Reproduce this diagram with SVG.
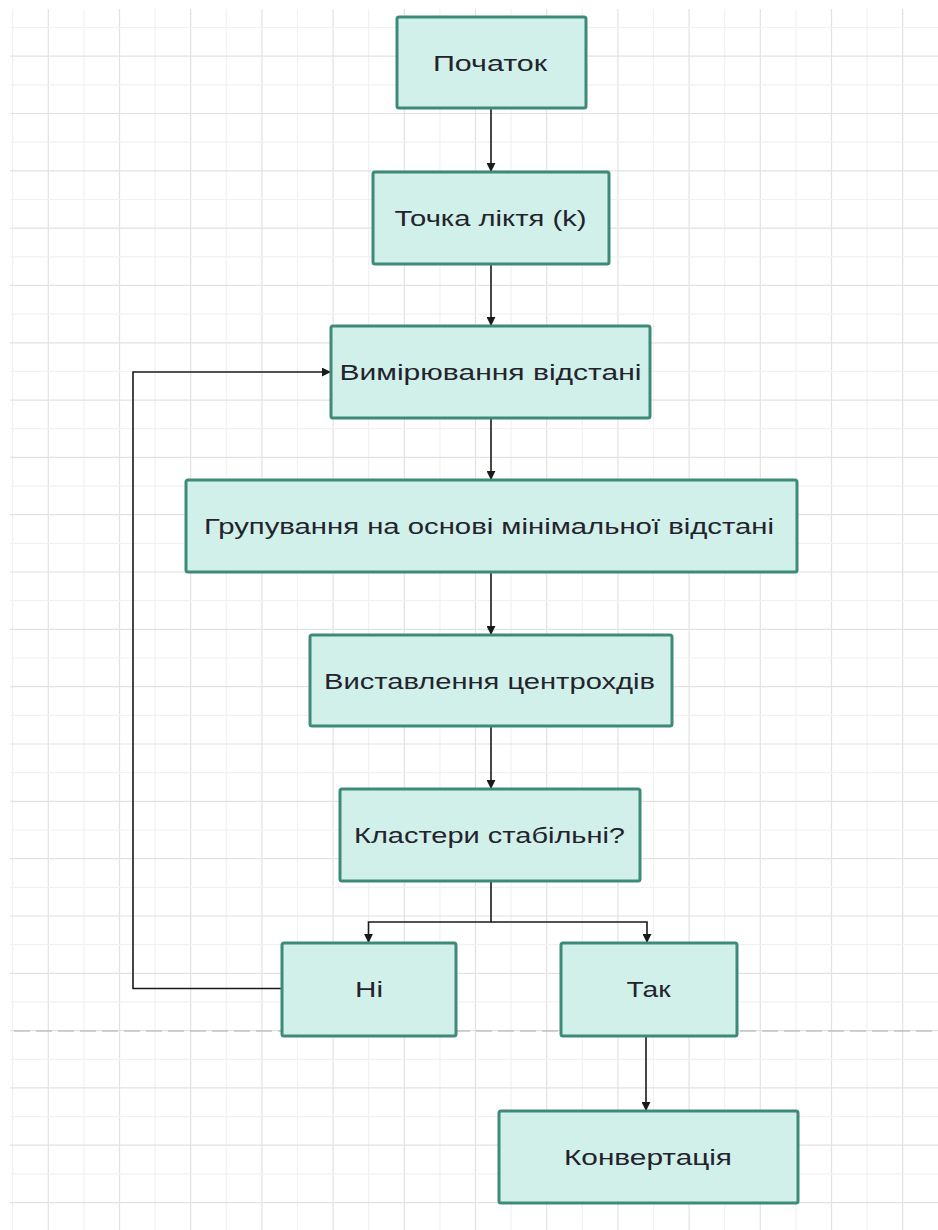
<svg xmlns="http://www.w3.org/2000/svg" width="938" height="1230" viewBox="0 0 938 1230">
<defs>
<style>
.gl{stroke:#f1f1f1;stroke-width:1.2}
.gd{stroke:#e2e2e2;stroke-width:1.2}
.box{fill:#d1f0e9;stroke:#3e8a79;stroke-width:3}
.lbl{font-family:"Liberation Sans",Arial,sans-serif;font-size:22px;fill:#23232d;text-anchor:middle}
.con{fill:none;stroke:#1a1a1a;stroke-width:1.6}
</style>
<marker id="ah" viewBox="0 0 10 10" refX="9" refY="5" markerWidth="9" markerHeight="9" markerUnits="userSpaceOnUse" orient="auto">
<path d="M0,0 L10,5 L0,10 z" fill="#1a1a1a"/>
</marker>
</defs>
<rect width="938" height="1230" fill="#ffffff"/>
<g id="grid">
<line class="gl" x1="12.7" y1="9" x2="12.7" y2="1230"/>
<line class="gd" x1="48.3" y1="9" x2="48.3" y2="1230"/>
<line class="gl" x1="83.9" y1="9" x2="83.9" y2="1230"/>
<line class="gd" x1="119.5" y1="9" x2="119.5" y2="1230"/>
<line class="gl" x1="155.1" y1="9" x2="155.1" y2="1230"/>
<line class="gd" x1="190.7" y1="9" x2="190.7" y2="1230"/>
<line class="gl" x1="226.3" y1="9" x2="226.3" y2="1230"/>
<line class="gd" x1="261.9" y1="9" x2="261.9" y2="1230"/>
<line class="gl" x1="297.5" y1="9" x2="297.5" y2="1230"/>
<line class="gd" x1="333.1" y1="9" x2="333.1" y2="1230"/>
<line class="gl" x1="368.7" y1="9" x2="368.7" y2="1230"/>
<line class="gd" x1="404.3" y1="9" x2="404.3" y2="1230"/>
<line class="gl" x1="439.9" y1="9" x2="439.9" y2="1230"/>
<line class="gd" x1="475.5" y1="9" x2="475.5" y2="1230"/>
<line class="gl" x1="511.1" y1="9" x2="511.1" y2="1230"/>
<line class="gd" x1="546.7" y1="9" x2="546.7" y2="1230"/>
<line class="gl" x1="582.3" y1="9" x2="582.3" y2="1230"/>
<line class="gd" x1="617.9" y1="9" x2="617.9" y2="1230"/>
<line class="gl" x1="653.5" y1="9" x2="653.5" y2="1230"/>
<line class="gd" x1="689.1" y1="9" x2="689.1" y2="1230"/>
<line class="gl" x1="724.7" y1="9" x2="724.7" y2="1230"/>
<line class="gd" x1="760.3" y1="9" x2="760.3" y2="1230"/>
<line class="gl" x1="795.9" y1="9" x2="795.9" y2="1230"/>
<line class="gd" x1="831.5" y1="9" x2="831.5" y2="1230"/>
<line class="gl" x1="867.1" y1="9" x2="867.1" y2="1230"/>
<line class="gd" x1="902.7" y1="9" x2="902.7" y2="1230"/>
<line class="gl" x1="10" y1="27.5" x2="938" y2="27.5"/>
<line class="gd" x1="10" y1="56.2" x2="938" y2="56.2"/>
<line class="gl" x1="10" y1="84.8" x2="938" y2="84.8"/>
<line class="gd" x1="10" y1="113.5" x2="938" y2="113.5"/>
<line class="gl" x1="10" y1="142.1" x2="938" y2="142.1"/>
<line class="gd" x1="10" y1="170.8" x2="938" y2="170.8"/>
<line class="gl" x1="10" y1="199.5" x2="938" y2="199.5"/>
<line class="gd" x1="10" y1="228.1" x2="938" y2="228.1"/>
<line class="gl" x1="10" y1="256.8" x2="938" y2="256.8"/>
<line class="gd" x1="10" y1="285.4" x2="938" y2="285.4"/>
<line class="gl" x1="10" y1="314.1" x2="938" y2="314.1"/>
<line class="gd" x1="10" y1="342.8" x2="938" y2="342.8"/>
<line class="gl" x1="10" y1="371.4" x2="938" y2="371.4"/>
<line class="gd" x1="10" y1="400.1" x2="938" y2="400.1"/>
<line class="gl" x1="10" y1="428.7" x2="938" y2="428.7"/>
<line class="gd" x1="10" y1="457.4" x2="938" y2="457.4"/>
<line class="gl" x1="10" y1="486.1" x2="938" y2="486.1"/>
<line class="gd" x1="10" y1="514.7" x2="938" y2="514.7"/>
<line class="gl" x1="10" y1="543.4" x2="938" y2="543.4"/>
<line class="gd" x1="10" y1="572.0" x2="938" y2="572.0"/>
<line class="gl" x1="10" y1="600.7" x2="938" y2="600.7"/>
<line class="gd" x1="10" y1="629.4" x2="938" y2="629.4"/>
<line class="gl" x1="10" y1="658.0" x2="938" y2="658.0"/>
<line class="gd" x1="10" y1="686.7" x2="938" y2="686.7"/>
<line class="gl" x1="10" y1="715.3" x2="938" y2="715.3"/>
<line class="gd" x1="10" y1="744.0" x2="938" y2="744.0"/>
<line class="gl" x1="10" y1="772.7" x2="938" y2="772.7"/>
<line class="gd" x1="10" y1="801.3" x2="938" y2="801.3"/>
<line class="gl" x1="10" y1="830.0" x2="938" y2="830.0"/>
<line class="gd" x1="10" y1="858.6" x2="938" y2="858.6"/>
<line class="gl" x1="10" y1="887.3" x2="938" y2="887.3"/>
<line class="gd" x1="10" y1="916.0" x2="938" y2="916.0"/>
<line class="gl" x1="10" y1="944.6" x2="938" y2="944.6"/>
<line class="gd" x1="10" y1="973.3" x2="938" y2="973.3"/>
<line class="gl" x1="10" y1="1001.9" x2="938" y2="1001.9"/>
<line class="gd" x1="10" y1="1030.6" x2="938" y2="1030.6"/>
<line class="gl" x1="10" y1="1059.3" x2="938" y2="1059.3"/>
<line class="gd" x1="10" y1="1087.9" x2="938" y2="1087.9"/>
<line class="gl" x1="10" y1="1116.6" x2="938" y2="1116.6"/>
<line class="gd" x1="10" y1="1145.2" x2="938" y2="1145.2"/>
<line class="gl" x1="10" y1="1173.9" x2="938" y2="1173.9"/>
<line class="gd" x1="10" y1="1202.6" x2="938" y2="1202.6"/>
</g>
<line id="divider" x1="14" y1="1031" x2="938" y2="1031" stroke="#ababab" stroke-width="1.2" stroke-dasharray="16 6"/>
<g id="connectors">
<line class="con" x1="491" y1="108" x2="491" y2="171" marker-end="url(#ah)"/>
<line class="con" x1="491" y1="264" x2="491" y2="325" marker-end="url(#ah)"/>
<line class="con" x1="491" y1="418" x2="491" y2="479" marker-end="url(#ah)"/>
<line class="con" x1="491" y1="572" x2="491" y2="634" marker-end="url(#ah)"/>
<line class="con" x1="491" y1="726" x2="491" y2="788" marker-end="url(#ah)"/>
<polyline class="con" points="491,881 491,922 368.5,922 368.5,942" marker-end="url(#ah)"/>
<polyline class="con" points="491,922 647,922 647,942" marker-end="url(#ah)"/>
<polyline class="con" points="282,988.5 133,988.5 133,372 330,372" marker-end="url(#ah)"/>
<line class="con" x1="646" y1="1036" x2="646" y2="1110" marker-end="url(#ah)"/>
</g>
<g id="n1"><rect class="box" x="397" y="17" width="189" height="91" rx="2"/><text class="lbl" x="490" y="71" textLength="114" lengthAdjust="spacingAndGlyphs">Початок</text></g>
<g id="n2"><rect class="box" x="373" y="172" width="236" height="92" rx="2"/><text class="lbl" x="490.5" y="226" textLength="192" lengthAdjust="spacingAndGlyphs">Точка ліктя (k)</text></g>
<g id="n3"><rect class="box" x="331" y="326" width="319" height="92" rx="2"/><text class="lbl" x="490.5" y="380" textLength="302" lengthAdjust="spacingAndGlyphs">Вимірювання відстані</text></g>
<g id="n4"><rect class="box" x="186" y="480" width="611" height="92" rx="2"/><text class="lbl" x="489" y="534" textLength="570" lengthAdjust="spacingAndGlyphs">Групування на основі мінімальної відстані</text></g>
<g id="n5"><rect class="box" x="310" y="635" width="362" height="91" rx="2"/><text class="lbl" x="489.5" y="689" textLength="331" lengthAdjust="spacingAndGlyphs">Виставлення центрохдів</text></g>
<g id="n6"><rect class="box" x="340" y="789" width="300" height="92" rx="2"/><text class="lbl" x="489.5" y="843" textLength="271" lengthAdjust="spacingAndGlyphs">Кластери стабільні?</text></g>
<g id="n7"><rect class="box" x="282" y="943" width="174" height="93" rx="2"/><text class="lbl" x="369" y="997" textLength="28" lengthAdjust="spacingAndGlyphs">Ні</text></g>
<g id="n8"><rect class="box" x="561" y="943" width="176" height="93" rx="2"/><text class="lbl" x="648.5" y="997" textLength="44" lengthAdjust="spacingAndGlyphs">Так</text></g>
<g id="n9"><rect class="box" x="499" y="1111" width="299" height="92" rx="2"/><text class="lbl" x="648" y="1165" textLength="168" lengthAdjust="spacingAndGlyphs">Конвертація</text></g>
</svg>
